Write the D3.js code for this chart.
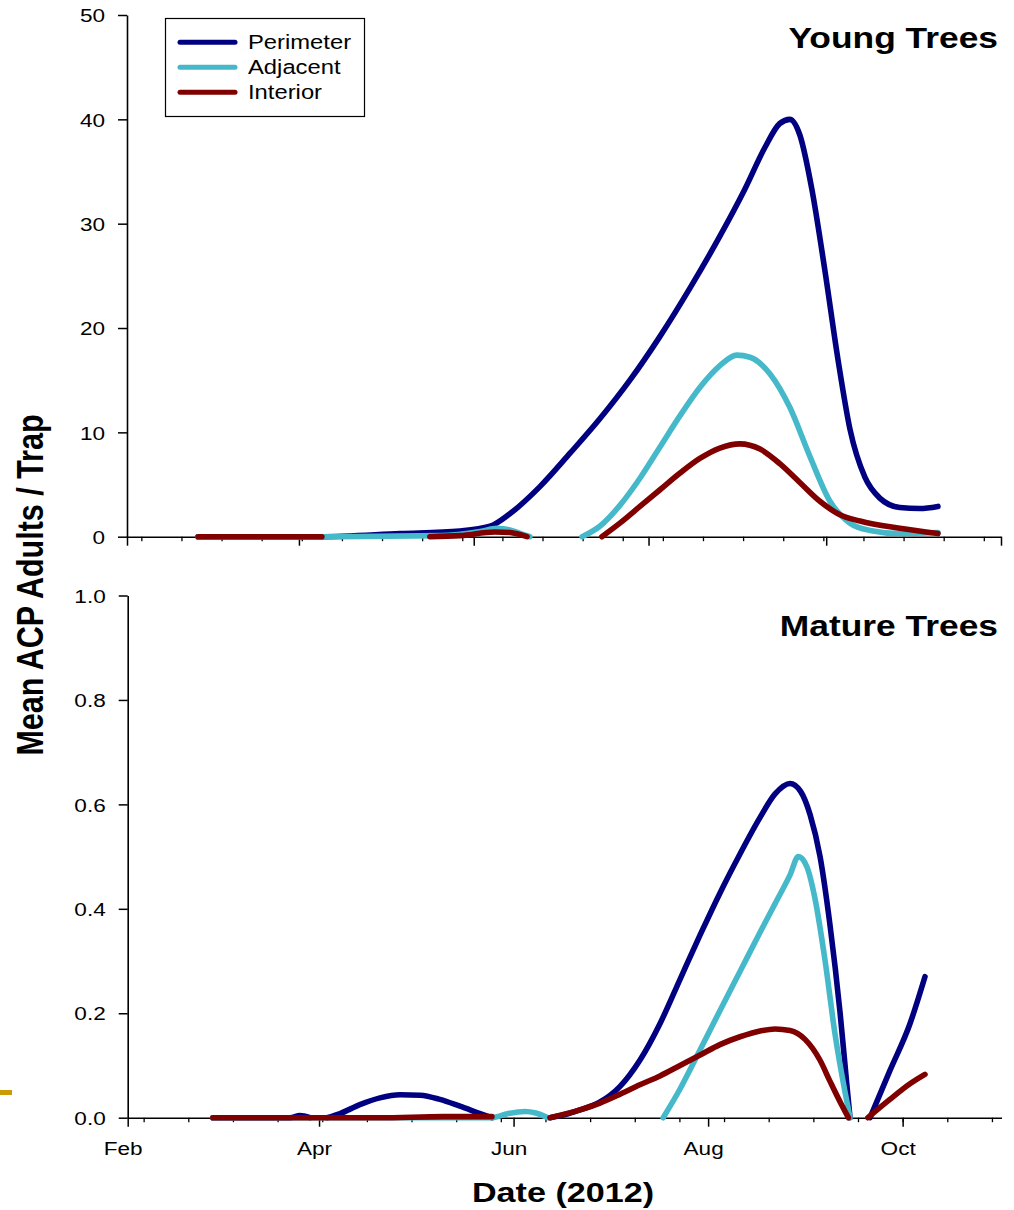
<!DOCTYPE html>
<html>
<head>
<meta charset="utf-8">
<script src="https://cdn.jsdelivr.net/npm/d3@7"></script>
<style>
  html, body { margin: 0; padding: 0; background: #fff; }
  svg { display: block; font-family: "Liberation Sans", Arial, sans-serif; }
</style>
</head>
<body>
<svg id="chart" width="1014" height="1210"></svg>
<script>
// ---------------- DATA (x = day of year 2012, 0 = Jan 1; null = clipped gap) ----------------
const seriesNames = ["Perimeter", "Adjacent", "Interior"];
const seriesColors = ["#000080", "#45b9c9", "#800000"];

const youngPerimeter = [[24.8,0],[67.3,0],[95.3,0.3],[116.2,0.55],[126.7,1.0],[133.6,2.2],[144.1,4.8],[154.6,8.0],[165.0,11.3],[175.5,15.0],[186.0,19.2],[196.4,23.8],[206.9,28.8],[215.6,33.3],[222.6,37.3],[227.8,39.6],[231.3,40.0],[234.8,38.5],[239.0,33.3],[243.5,25.6],[248.1,17.0],[252.3,10.3],[257.5,5.7],[262.7,3.7],[269.7,2.8],[276.7,2.7],[283.0,2.9]];
const youngAdjacent = [[24.8,0],[67.3,0],[109.2,0.1],[123.2,0.5],[129.1,0.8],[133.6,0.65],[137.8,0.25],[140.6,0],[150,null],[158.8,0],[165.0,1.0],[172.0,3.0],[179.0,5.6],[186.0,8.6],[193.0,11.6],[199.9,14.3],[206.9,16.4],[212.8,17.4],[217.4,17.2],[224.4,15.6],[231.3,12.4],[238.3,7.7],[245.3,3.4],[252.3,1.3],[259.3,0.6],[269.7,0.3],[283.0,0.4]];
const youngInterior = [[24.8,0],[68.0,0],[90,null],[105.7,0],[116.2,0.1],[128.4,0.45],[133.6,0.4],[139.6,0],[150,null],[165.7,0],[172.0,1.3],[179.0,2.9],[186.0,4.5],[193.0,6.1],[199.9,7.5],[206.9,8.5],[213.9,8.9],[220.9,8.4],[227.8,7.0],[234.8,5.2],[241.8,3.4],[248.8,2.1],[255.8,1.5],[269.7,0.8],[283.0,0.3]];

const matureTreesPerimeter = [[57.7,0],[81.9,0],[85.0,0.004],[88.2,0],[90,null],[93.5,0],[97.6,0.008],[103.8,0.025],[110.1,0.038],[116.4,0.044],[122.7,0.043],[128.9,0.035],[135.2,0.022],[141.5,0.008],[145.2,0],[150,null],[163.4,0],[168.1,0.006],[172.8,0.015],[179.1,0.03],[185.4,0.06],[191.6,0.11],[197.9,0.18],[204.2,0.265],[210.5,0.35],[216.7,0.43],[223.0,0.505],[229.3,0.575],[234.0,0.62],[238.7,0.64],[242.0,0.625],[245.0,0.58],[248.1,0.5],[251.2,0.37],[254.4,0.2],[256.4,0.07],[257.5,0],[260,null],[263.8,0],[270.0,0.09],[276.3,0.18],[281.0,0.27]];
const matureTreesAdjacent = [[57.7,0],[145.2,0],[150.3,0.008],[155.6,0.012],[159.0,0.009],[162.8,0],[180,null],[198.9,0],[204.2,0.055],[210.5,0.13],[216.7,0.205],[223.0,0.28],[229.3,0.355],[234.0,0.41],[238.7,0.465],[241.3,0.5],[244.0,0.48],[246.5,0.42],[249.7,0.3],[252.8,0.16],[255.9,0.05],[257.5,0]];
const matureTreesInterior = [[57.7,0],[110,0],[130,0.002],[145.2,0.002],[150,null],[163.4,0],[172.8,0.015],[179.1,0.028],[185.4,0.045],[191.6,0.063],[197.9,0.08],[204.2,0.1],[210.5,0.12],[216.7,0.14],[223.0,0.155],[229.3,0.166],[234.0,0.17],[238.7,0.167],[243.4,0.15],[248.1,0.11],[251.2,0.07],[254.4,0.03],[257.0,0],[260,null],[263.1,0],[270.0,0.035],[276.3,0.065],[281.0,0.083]];

const youngYTicks = [0, 10, 20, 30, 40, 50];
const matureYTicks = [0, 0.2, 0.4, 0.6, 0.8, 1.0];
const youngMajorTickDoy = [0, 60, 121, 182, 244, 305];      // Jan, Mar, May, Jul, Sep, Nov (unlabelled)
const matureMajorTickDoy = [31, 91, 152, 213, 274];         // Feb, Apr, Jun, Aug, Oct (labelled)
const panelTitles = ["Young Trees", "Mature Trees"];
const xTitle = "Date (2012)";
const yTitle = "Mean ACP Adults / Trap";

// ---------------- HELPERS ----------------
const SX = 1.22; // horizontal stretch of the reference's text
const base = Date.UTC(2012, 0, 1);
const doyDate = d => new Date(base + d * 864e5);
const svg = d3.select("#chart");

// small decorative mark at lower-left edge
svg.append("rect").attr("x", 0).attr("y", 1090).attr("width", 12).attr("height", 5).attr("fill", "#cc9a06");

function drawPanel(cfg) {
  const g = svg.append("g");
  const x = d3.scaleUtc([doyDate(cfg.domain[0]), doyDate(cfg.domain[1])], cfg.xRange);
  const y = d3.scaleLinear(cfg.yDomain, cfg.yRange);

  // minor x ticks every 14 days
  const minor = d3.range(cfg.minorStart, cfg.domain[1] + 0.01, 14).map(doyDate);
  g.append("g").attr("transform", `translate(0,${cfg.yRange[0]})`)
    .call(d3.axisBottom(x).tickValues(minor).tickSize(4.5).tickSizeOuter(0).tickFormat(""))
    .call(a => a.select(".domain").remove())
    .call(a => a.selectAll("line").attr("stroke", "#000").attr("stroke-width", 1.3));

  // major x ticks
  const xa = g.append("g").attr("transform", `translate(0,${cfg.yRange[0]})`)
    .call(d3.axisBottom(x).tickValues(cfg.majorDoy.map(doyDate)).tickSize(9).tickSizeOuter(0)
      .tickFormat(cfg.labelX ? d3.utcFormat("%b") : ""));
  xa.select(".domain").attr("stroke", "#000").attr("stroke-width", 1.6);
  xa.selectAll("line").attr("stroke", "#000").attr("stroke-width", 1.5);
  xa.selectAll("text").attr("y", 0).attr("dy", 0).attr("fill", "#000")
    .attr("font-size", 18.5).attr("font-family", "Liberation Sans, Arial, sans-serif")
    .attr("transform", `translate(-5,37) scale(${SX},1)`);

  // y axis
  const ya = g.append("g").attr("transform", `translate(${cfg.xRange[0]},0)`)
    .call(d3.axisLeft(y).tickValues(cfg.yTicks).tickSize(9).tickSizeOuter(0).tickFormat(cfg.yFormat));
  ya.select(".domain").attr("stroke", "#000").attr("stroke-width", 1.6);
  ya.selectAll("line").attr("stroke", "#000").attr("stroke-width", 1.5);
  ya.selectAll("text").attr("x", -22 / SX).attr("dy", "0.36em").attr("fill", "#000")
    .attr("font-size", 18.5).attr("font-family", "Liberation Sans, Arial, sans-serif")
    .attr("transform", `scale(${SX},1)`);

  // lines
  const line = d3.line()
    .defined(d => d[1] !== null)
    .x(d => x(doyDate(d[0])))
    .y(d => y(d[1]))
    .curve(d3.curveMonotoneX);
  cfg.series.forEach((s, i) => {
    g.append("path").datum(s).attr("d", line)
      .attr("fill", "none").attr("stroke", seriesColors[i])
      .attr("stroke-width", 5.6).attr("stroke-linecap", "round").attr("stroke-linejoin", "round");
  });

  // title
  g.append("text").attr("transform", `translate(998,${cfg.titleY}) scale(${SX},1)`)
    .attr("text-anchor", "end").attr("font-weight", "bold").attr("font-size", 29)
    .attr("fill", "#000").text(cfg.title);
}

drawPanel({
  domain: [0, 305], xRange: [127, 1001], yDomain: [0, 50], yRange: [536.7, 15],
  yTicks: youngYTicks, yFormat: d3.format("d"), majorDoy: youngMajorTickDoy, minorStart: 5,
  labelX: false, series: [youngPerimeter, youngAdjacent, youngInterior],
  title: panelTitles[0], titleY: 48
});
drawPanel({
  domain: [31, 305], xRange: [127.7, 1001.5], yDomain: [0, 1], yRange: [1117.7, 595.5],
  yTicks: matureYTicks, yFormat: d3.format(".1f"), majorDoy: matureMajorTickDoy, minorStart: 36,
  labelX: true, series: [matureTreesPerimeter, matureTreesAdjacent, matureTreesInterior],
  title: panelTitles[1], titleY: 636
});

// legend
const lg = svg.append("g");
lg.append("rect").attr("x", 165.5).attr("y", 18.5).attr("width", 199).attr("height", 98)
  .attr("fill", "#fff").attr("stroke", "#000").attr("stroke-width", 1.2);
seriesNames.forEach((n, i) => {
  const yy = 42.3 + i * 25;
  lg.append("line").attr("x1", 180).attr("x2", 235).attr("y1", yy).attr("y2", yy)
    .attr("stroke", seriesColors[i]).attr("stroke-width", 5).attr("stroke-linecap", "round");
  lg.append("text").attr("transform", `translate(248,${yy + 7}) scale(${SX},1)`)
    .attr("font-size", 19.5).attr("fill", "#000").text(n);
});

// axis titles
svg.append("text").attr("transform", `translate(563,1202) scale(${SX},1)`)
  .attr("text-anchor", "middle").attr("font-weight", "bold").attr("font-size", 28).text(xTitle);
svg.append("text").attr("transform", `translate(43,585) scale(${SX},1) rotate(-90)`)
  .attr("text-anchor", "middle").attr("font-weight", "bold").attr("font-size", 30.5).text(yTitle);
</script>
</body>
</html>
